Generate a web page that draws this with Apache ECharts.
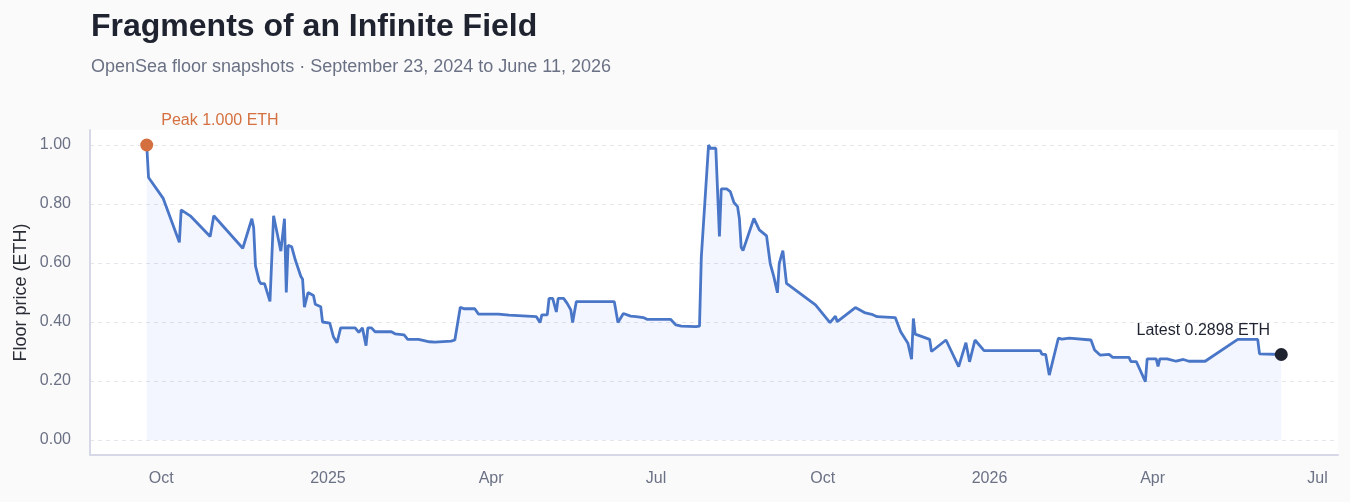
<!DOCTYPE html>
<html>
<head>
<meta charset="utf-8">
<script src="https://cdn.jsdelivr.net/npm/echarts@6/dist/echarts.min.js"></script>
<style>
  html, body { margin: 0; padding: 0; background: #fafafa; }
  #chart { width: 1350px; height: 502px; }
</style>
</head>
<body>
<div id="chart"></div>
<script>
const dates = [
'2024-09-23','2024-09-24','2024-10-02','2024-10-11','2024-10-12','2024-10-17','2024-10-28','2024-10-30',
'2024-11-15','2024-11-20','2024-11-21','2024-11-22','2024-11-23','2024-11-24','2024-11-25','2024-11-27',
'2024-11-30','2024-12-02','2024-12-03','2024-12-06','2024-12-08','2024-12-09','2024-12-10','2024-12-12',
'2024-12-14','2024-12-17','2024-12-18','2024-12-19','2024-12-21','2024-12-24','2024-12-25','2024-12-28',
'2024-12-29','2025-01-02','2025-01-04','2025-01-06','2025-01-08','2025-01-16','2025-01-18','2025-01-20',
'2025-01-21','2025-01-22','2025-01-23','2025-01-25','2025-01-27','2025-02-05','2025-02-07','2025-02-12',
'2025-02-14','2025-02-20','2025-02-26','2025-03-01','2025-03-10','2025-03-12','2025-03-15','2025-03-17',
'2025-03-23','2025-03-25','2025-04-05','2025-04-11','2025-04-26','2025-04-28','2025-04-29','2025-05-02',
'2025-05-03','2025-05-05','2025-05-07','2025-05-08','2025-05-11','2025-05-13','2025-05-15','2025-05-16',
'2025-05-18','2025-06-08','2025-06-10','2025-06-13','2025-06-17','2025-06-20','2025-06-24','2025-06-26',
'2025-07-09','2025-07-12','2025-07-15','2025-07-23','2025-07-24','2025-07-25','2025-07-26','2025-07-27',
'2025-07-30','2025-07-31','2025-08-03','2025-08-05','2025-08-06','2025-08-09','2025-08-11','2025-08-13',
'2025-08-15','2025-08-16','2025-08-17','2025-08-18','2025-08-24','2025-08-27','2025-08-31','2025-09-02',
'2025-09-04','2025-09-06','2025-09-07','2025-09-09','2025-09-11','2025-09-27','2025-10-05','2025-10-08',
'2025-10-09','2025-10-19','2025-10-24','2025-10-28','2025-10-31','2025-11-10','2025-11-13','2025-11-17',
'2025-11-19','2025-11-20','2025-11-21','2025-11-29','2025-11-30','2025-12-08','2025-12-15','2025-12-19',
'2025-12-20','2025-12-21','2025-12-22','2025-12-24','2025-12-29','2026-01-29','2026-01-30','2026-02-01',
'2026-02-03','2026-02-08','2026-02-10','2026-02-11','2026-02-14','2026-02-26','2026-02-28','2026-03-03',
'2026-03-08','2026-03-10','2026-03-19','2026-03-20','2026-03-23','2026-03-28','2026-03-29','2026-04-03',
'2026-04-04','2026-04-05','2026-04-09','2026-04-14','2026-04-18','2026-04-21','2026-04-30','2026-05-18',
'2026-05-29','2026-05-30','2026-06-11'
];
const floorPrices = [
1.000,0.890,0.820,0.670,0.780,0.760,0.690,0.760,
0.650,0.750,0.720,0.590,0.590,0.540,0.530,0.530,
0.470,0.760,0.760,0.640,0.750,0.500,0.660,0.655,
0.610,0.555,0.545,0.450,0.500,0.490,0.460,0.452,
0.400,0.396,0.350,0.330,0.380,0.380,0.365,0.380,
0.380,0.320,0.380,0.380,0.367,0.367,0.360,0.356,
0.341,0.341,0.333,0.332,0.335,0.339,0.450,0.445,
0.445,0.427,0.427,0.423,0.418,0.398,0.424,0.424,
0.480,0.480,0.434,0.480,0.480,0.463,0.441,0.398,
0.469,0.469,0.398,0.429,0.420,0.418,0.415,0.409,
0.409,0.390,0.386,0.384,0.382,0.386,0.620,0.621,
1.000,0.989,0.989,0.690,0.851,0.851,0.842,0.805,
0.791,0.751,0.653,0.642,0.751,0.712,0.692,0.599,
0.554,0.499,0.599,0.642,0.531,0.458,0.398,0.420,
0.401,0.449,0.432,0.426,0.418,0.415,0.367,0.328,
0.274,0.412,0.359,0.341,0.300,0.339,0.249,0.330,
0.328,0.265,0.265,0.339,0.303,0.303,0.290,0.290,
0.220,0.345,0.342,0.339,0.345,0.339,0.305,0.288,
0.290,0.280,0.280,0.266,0.266,0.198,0.275,0.275,
0.249,0.275,0.275,0.267,0.273,0.267,0.267,0.341,
0.341,0.292,0.2898
];
const xTickDates = ['2024-10-01','2025-01-01','2025-04-01','2025-07-01','2025-10-01','2026-01-01','2026-04-01','2026-07-01'];
const xTickLabels = ['Oct','2025','Apr','Jul','Oct','2026','Apr','Jul'];
const yTicks = [0, 0.2, 0.4, 0.6, 0.8, 1.0];

const titleText = 'Fragments of an Infinite Field';
const subtitleText = 'OpenSea floor snapshots \u00b7 September 23, 2024 to June 11, 2026';

function toTs(s) { const p = s.split('-').map(Number); return Date.UTC(p[0], p[1] - 1, p[2]); }
const tickTs = xTickDates.map(toTs);
const seriesData = dates.map((d, i) => [toTs(d), floorPrices[i]]);
const peakVal = Math.max.apply(null, floorPrices);
const peakIdx = floorPrices.indexOf(peakVal);
const lastIdx = floorPrices.length - 1;

const FONT = '"Liberation Sans", Arial, Helvetica, sans-serif';
const LINE = '#4a76c8';

const chart = echarts.init(document.getElementById('chart'), null, { renderer: 'canvas' });
chart.setOption({
  animation: false,
  backgroundColor: '#fafafa',
  textStyle: { fontFamily: FONT },
  title: [
    { text: titleText, left: 86, top: 6, textStyle: { fontSize: 32, fontWeight: 'bold', color: '#1f2330', fontFamily: FONT } },
    { text: subtitleText, left: 86, top: 53, textStyle: { fontSize: 18, fontWeight: 'normal', color: '#6b7185', fontFamily: FONT } }
  ],
  grid: [
    { left: 90, right: 12, top: 145, bottom: 62, show: false },
    { left: 90, right: 12, top: 130, bottom: 47, show: true, backgroundColor: '#ffffff', borderWidth: 0, z: -1 }
  ],
  xAxis: [
    {
      type: 'value', gridIndex: 0, scale: true,
      min: v => v.min - (v.max - v.min) * 0.05,
      max: v => v.max + (v.max - v.min) * 0.05,
      axisLine: { show: false }, axisTick: { show: false }, splitLine: { show: false },
      axisLabel: {
        customValues: tickTs,
        margin: 31,
        color: '#6b7185', fontSize: 16, fontFamily: FONT,
        formatter: function (val) {
          let best = 0, bd = Infinity;
          tickTs.forEach((t, k) => { const dd = Math.abs(t - val); if (dd < bd) { bd = dd; best = k; } });
          return xTickLabels[best];
        }
      }
    },
    {
      type: 'value', gridIndex: 1, min: 0, max: 1,
      axisLine: { show: true, onZero: false, lineStyle: { color: '#d6d8e7', width: 2 } },
      axisTick: { show: false }, axisLabel: { show: false }, splitLine: { show: false }
    }
  ],
  yAxis: [
    {
      type: 'value', gridIndex: 0, min: yTicks[0], max: yTicks[yTicks.length - 1], interval: 0.2,
      axisLine: { show: false }, axisTick: { show: false },
      axisLabel: { margin: 19, color: '#6b7185', fontSize: 16, fontFamily: FONT, formatter: v => v.toFixed(2) },
      splitLine: { show: true, lineStyle: { color: '#e4e6ec', width: 1, type: [4, 4] } }
    },
    {
      type: 'value', gridIndex: 1, min: 0, max: 1,
      name: 'Floor price (ETH)', nameLocation: 'middle', nameGap: 60,
      nameTextStyle: { fontSize: 18, color: '#2a2d36', fontFamily: FONT },
      axisLine: { show: true, lineStyle: { color: '#d6d8e7', width: 2 } },
      axisTick: { show: false }, axisLabel: { show: false }, splitLine: { show: false }
    }
  ],
  series: [
    {
      type: 'line', xAxisIndex: 0, yAxisIndex: 0,
      data: seriesData, showSymbol: false, symbol: 'none',
      lineStyle: { color: LINE, width: 2.8 },
      itemStyle: { color: LINE },
      areaStyle: { color: 'rgba(80,130,240,0.1)', origin: 'start' },
      z: 3
    },
    {
      type: 'scatter', xAxisIndex: 0, yAxisIndex: 0,
      data: [seriesData[peakIdx]], symbolSize: 13,
      itemStyle: { color: '#d4703f', opacity: 1 },
      label: {
        show: true, position: 'right', distance: 8, offset: [0, -24],
        formatter: p => 'Peak ' + p.value[1].toFixed(3) + ' ETH',
        color: '#d4703f', fontSize: 16, fontFamily: FONT
      },
      z: 5
    },
    {
      type: 'scatter', xAxisIndex: 0, yAxisIndex: 0,
      data: [seriesData[lastIdx]], symbolSize: 13,
      itemStyle: { color: '#1f2330', opacity: 1 },
      label: {
        show: true, position: 'top', distance: 5, offset: [-78, -4],
        formatter: p => 'Latest ' + p.value[1].toFixed(4) + ' ETH',
        color: '#1f2330', fontSize: 16, fontFamily: FONT
      },
      z: 5
    }
  ]
});
</script>
</body>
</html>
